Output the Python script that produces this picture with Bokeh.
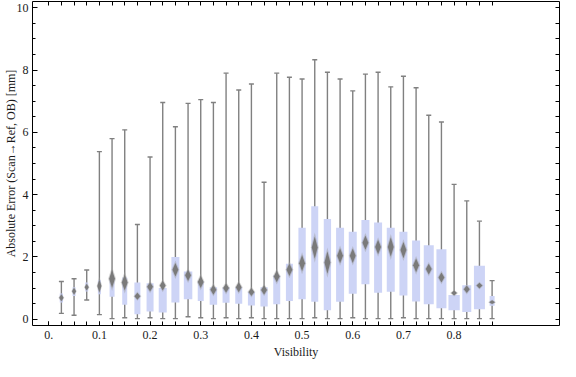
import numpy as np
from bokeh.plotting import figure
from bokeh.models import FixedTicker, LinearAxis, Range1d, ColumnDataSource
from bokeh.embed import file_html
from bokeh.resources import INLINE

# ---------------- data ----------------
visibility = [0.025, 0.05, 0.075, 0.1, 0.125, 0.15, 0.175, 0.2, 0.225, 0.25,
              0.275, 0.3, 0.325, 0.35, 0.375, 0.4, 0.425, 0.45, 0.475, 0.5,
              0.525, 0.55, 0.575, 0.6, 0.625, 0.65, 0.675, 0.7, 0.725, 0.75,
              0.775, 0.8, 0.825, 0.85, 0.875]
whisker_low = [0.19, 0.13, 0.62, 0.15, 0.02, 0.05, 0.02, 0.05, 0.02, 0.02,
               0.08, 0.05, 0.02, 0.05, 0.02, 0.05, 0.02, 0.02, 0.02, 0.02,
               0.05, 0.02, 0.02, 0.05, 0.02, 0.02, 0.02, 0.05, 0.02, 0.02,
               0.02, 0.02, 0.02, 0.02, 0.02]
whisker_high = [1.21, 1.30, 1.58, 5.38, 5.80, 6.08, 3.04, 5.21, 6.96, 6.18,
                6.93, 7.05, 6.96, 7.90, 7.36, 7.55, 4.40, 7.90, 7.77, 7.71,
                8.33, 7.93, 7.71, 7.33, 7.87, 7.93, 7.46, 7.80, 7.43, 6.55,
                6.33, 4.33, 3.80, 3.15, 1.24]
q1 = [0.54, 0.75, 0.89, 0.80, 0.72, 0.47, 0.16, 0.25, 0.22, 0.54,
      0.64, 0.59, 0.47, 0.53, 0.50, 0.44, 0.41, 0.48, 0.59, 0.64,
      0.56, 0.29, 0.56, 0.82, 1.125, 0.85, 0.885, 0.76, 0.57, 0.48,
      0.35, 0.29, 0.23, 0.32, 0.43]
q3 = [0.83, 1.03, 1.18, 1.25, 1.31, 1.34, 1.18, 1.16, 1.00, 2.00,
      1.53, 1.22, 1.03, 1.03, 1.03, 0.875, 1.03, 1.41, 1.78, 2.94,
      3.625, 3.22, 2.94, 2.81, 3.19, 3.11, 2.94, 2.81, 2.53, 2.375,
      2.25, 0.78, 1.09, 1.72, 0.75]
mean_val = [0.69, 0.90, 1.03, 1.07, 1.30, 1.18, 0.74, 1.04, 1.08, 1.59,
            1.41, 1.20, 0.95, 1.00, 1.03, 0.875, 0.94, 1.375, 1.59, 1.80,
            2.30, 1.82, 2.04, 2.04, 2.46, 2.32, 2.32, 2.22, 1.73, 1.61,
            1.34, 0.84, 0.96, 1.08, 0.55]
mean_ci = [0.11, 0.11, 0.11, 0.21, 0.29, 0.26, 0.11, 0.15, 0.16, 0.22,
           0.18, 0.20, 0.16, 0.15, 0.16, 0.13, 0.15, 0.19, 0.20, 0.26,
           0.36, 0.36, 0.24, 0.23, 0.23, 0.23, 0.31, 0.26, 0.22, 0.17,
           0.16, 0.08, 0.12, 0.09, 0.06]
box_weight = [3.3, 3.0, 3.0, 3.0, 5.0, 5.0, 6.0, 7.0, 8.0, 8.0,
              8.5, 6.0, 7.5, 7.0, 7.0, 7.0, 7.3, 7.0, 7.0, 7.3,
              7.0, 7.3, 8.0, 8.0, 8.0, 8.0, 8.0, 8.0, 8.0, 10.0,
              10.0, 11.3, 9.0, 11.0, 5.0]

x_tick_labels = ["0.", "0.1", "0.2", "0.3", "0.4", "0.5", "0.6", "0.7", "0.8"]
x_major_ticks = [0.0, 0.1, 0.2, 0.3, 0.4, 0.5, 0.6, 0.7, 0.8]
x_minor_ticks = [0.0] + visibility
y_major_ticks = [0, 2, 4, 6, 8, 10]
y_minor_ticks = [0.5, 1, 1.5, 2.5, 3, 3.5, 4.5, 5, 5.5, 6.5, 7, 7.5, 8.5, 9, 9.5]

# ---------------- figure ----------------
X0, X1 = -0.032, 1.008
W, H = 560, 361
p = figure(width=W, height=H, output_backend="svg", toolbar_location=None,
           x_range=Range1d(X0, X1), y_range=Range1d(-0.2, 10.2),
           min_border_left=0, min_border_right=1, min_border_top=1,
           min_border_bottom=0)
p.background_fill_color = "white"
p.border_fill_color = "white"
p.outline_line_color = None
p.grid.visible = False

FONT = "Liberation Serif"
frame_w_est = 540.0
px_to_x = (X1 - X0) / frame_w_est

src = ColumnDataSource(dict(
    x=visibility, lo=whisker_low, hi=whisker_high, q1=q1, q3=q3,
    mid=[(a + b) / 2 for a, b in zip(q1, q3)],
    h=[b - a for a, b in zip(q1, q3)], w=box_weight))

GRAY = "#808080"
p.segment(x0="x", y0="lo", x1="x", y1="hi", source=src, line_color=GRAY, line_width=1.4)
p.scatter(x="x", y="hi", source=src, marker="dash", size=5, line_color=GRAY, line_width=1.4)
p.scatter(x="x", y="lo", source=src, marker="dash", size=5, line_color=GRAY, line_width=1.4)
p.rect(x="x", y="mid", width="w", height="h", width_units="screen", source=src,
       fill_color="#cdd4f6", line_color=None)

# mean diamonds (soft halo + core)
for scale, col, alpha in [(1.35, "#a0a0a0", 0.45), (1.0, "#7a7a7a", 1.0)]:
    xs_d, ys_d = [], []
    for x, m, c, w in zip(visibility, mean_val, mean_ci, box_weight):
        hw = min(3.0, w / 2 + 0.6) * px_to_x * scale
        hh = c * scale
        xs_d.append([x - hw, x, x + hw, x])
        ys_d.append([m, m + hh, m, m - hh])
    p.patches(xs_d, ys_d, fill_color=col, fill_alpha=alpha, line_color=None)

# ---------------- axes ----------------
def style_axis(ax):
    ax.axis_line_color = "black"
    ax.axis_line_width = 1
    ax.major_tick_line_color = "black"
    ax.minor_tick_line_color = "black"
    ax.major_label_text_font = FONT
    ax.major_label_text_font_size = "12px"
    ax.major_label_text_color = "#1a1a1a"
    ax.axis_label_text_font = FONT
    ax.axis_label_text_font_size = "12px"
    ax.axis_label_text_font_style = "normal"
    ax.axis_label_text_color = "#1a1a1a"
    ax.major_tick_out = 0
    ax.minor_tick_out = 0

xt = FixedTicker(ticks=x_major_ticks, minor_ticks=x_minor_ticks)
yt = FixedTicker(ticks=y_major_ticks, minor_ticks=y_minor_ticks)

xa = p.xaxis[0]
xa.ticker = xt
xa.major_label_overrides = {t: l for t, l in zip(x_major_ticks, x_tick_labels)}
xa.axis_label = "Visibility"
style_axis(xa)
xa.major_tick_in = 4
xa.minor_tick_in = 4
xa.major_label_standoff = 5
xa.axis_label_standoff = 3

ya = p.yaxis[0]
ya.ticker = yt
ya.axis_label = "Absolute Error (Scan\u2192Ref, OB) [mm]"
style_axis(ya)
ya.major_tick_in = 5
ya.minor_tick_in = 3
ya.major_label_standoff = 4
ya.axis_label_standoff = -4

# frame ticks on top and right: all drawn as unlabeled minor ticks
top = LinearAxis(ticker=FixedTicker(ticks=[], minor_ticks=x_minor_ticks))
style_axis(top)
top.minor_tick_in = 4
top.major_label_standoff = 0
p.add_layout(top, "above")

right = LinearAxis(ticker=FixedTicker(ticks=[], minor_ticks=sorted(y_major_ticks + y_minor_ticks)))
style_axis(right)
right.minor_tick_in = 4
right.major_label_standoff = 0
p.add_layout(right, "right")

open("out.html", "w").write(file_html(p, INLINE))
